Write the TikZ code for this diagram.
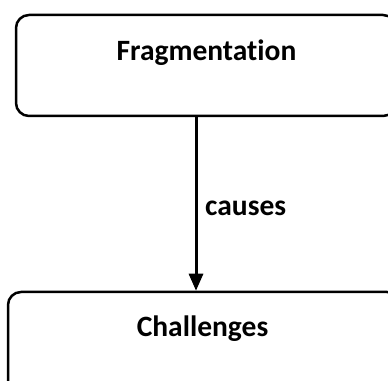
\documentclass[tikz,border=0pt]{standalone}
\usepackage{fontspec}
\setmainfont[Ligatures=NoCommon]{Carlito}
\usetikzlibrary{arrows.meta}
\tikzset{
  box/.style={draw, line width=2.5pt, rounded corners=13pt, inner sep=0pt},
  lbl/.style={font=\bfseries\fontsize{29.5}{34}\selectfont, anchor=base, inner sep=0pt},
  conn/.style={line width=3pt, -{Triangle[width=14pt,length=17pt]}}
}
\begin{document}
\begin{tikzpicture}[x=1pt,y=1pt]
\useasboundingbox (0,0) rectangle (388,380);
\clip (0,0) rectangle (388,380);
\node[box, minimum width=380pt, minimum height=101pt] (frag) at (206,314.5) {};
\node[box, minimum width=392pt, minimum height=120pt] (chal) at (204,28) {};
\node[lbl] (fragt) at (206.5,319) {Fragmentation};
\node[lbl] (chalt) at (202.5,43) {Challenges};
\node[lbl, anchor=base west] (cause) at (205,164) {causes};
\coordinate (ax) at (196,0);
\draw[conn] (frag.south -| ax) -- (chal.north -| ax);
\end{tikzpicture}
\end{document}
